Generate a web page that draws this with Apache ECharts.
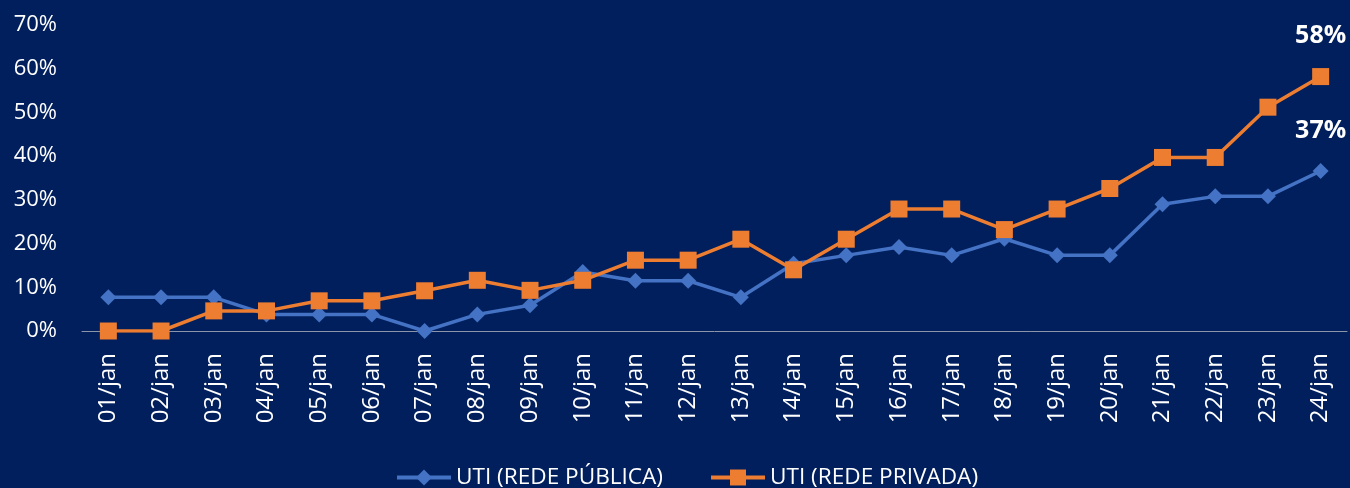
<!DOCTYPE html>
<html>
<head>
<meta charset="utf-8">
<script src="https://cdn.jsdelivr.net/npm/echarts@6/dist/echarts.min.js"></script>
<style>
  html, body { margin: 0; padding: 0; background: #001f5c; }
  #chart { width: 1350px; height: 488px; }
</style>
</head>
<body>
<div id="chart"></div>
<script>
// dias
var dias = ['01/jan', '02/jan', '03/jan', '04/jan', '05/jan', '06/jan', '07/jan', '08/jan',
    '09/jan', '10/jan', '11/jan', '12/jan', '13/jan', '14/jan', '15/jan', '16/jan',
    '17/jan', '18/jan', '19/jan', '20/jan', '21/jan', '22/jan', '23/jan', '24/jan'];
// ocupação UTI rede pública (%)
var redePublica = [7.7, 7.7, 7.7, 3.8, 3.8, 3.8, 0, 3.8, 5.9, 13.5, 11.5, 11.5,
    7.7, 15.4, 17.3, 19.2, 17.3, 21.1, 17.3, 17.3, 29.0, 30.8, 30.8, 36.6];
// ocupação UTI rede privada (%)
var redePrivada = [0, 0, 4.6, 4.6, 6.9, 6.9, 9.2, 11.6, 9.3, 11.6, 16.2, 16.2,
    21.0, 14.0, 21.0, 27.9, 27.9, 23.2, 27.9, 32.6, 39.7, 39.7, 51.2, 58.2];
// marcas do eixo y
var yMin = 0, yMax = 70, yStep = 10;

var fonte = '"Open Sans", sans-serif';

// só o último ponto leva rótulo
function comRotulo(valores) {
    return valores.map(function (v, i) {
        if (i === valores.length - 1) {
            return {
                value: v,
                label: {
                    show: true,
                    position: 'top',
                    distance: 20,
                    color: '#ffffff',
                    fontFamily: fonte,
                    fontWeight: 'bold',
                    fontSize: 25,
                    formatter: function (p) { return Math.round(p.value) + '%'; }
                }
            };
        }
        return v;
    });
}

var myChart = echarts.init(document.getElementById('chart'));
var option = {
    backgroundColor: '#001f5c',
    animation: false,
    grid: { left: 82, right: 3, top: 25, bottom: 157 },
    legend: {
        left: 390,
        top: 461,
        itemWidth: 54,
        itemHeight: 20,
        itemGap: 46,
        lineStyle: { width: 4 },
        textStyle: { color: '#ffffff', fontFamily: fonte, fontSize: 22.6 },
        data: ['UTI (REDE PÚBLICA)', 'UTI (REDE PRIVADA)']
    },
    xAxis: {
        type: 'category',
        data: dias,
        boundaryGap: true,
        axisLine: { lineStyle: { color: '#8c94a8', width: 1 } },
        axisTick: { show: false },
        axisLabel: {
            rotate: 90,
            interval: 0,
            margin: 22,
            color: '#ffffff',
            fontFamily: fonte,
            fontSize: 24
        }
    },
    yAxis: {
        type: 'value',
        min: yMin,
        max: yMax,
        interval: yStep,
        splitLine: { show: false },
        axisLine: { show: false },
        axisTick: { show: false },
        axisLabel: {
            margin: 25,
            color: '#ffffff',
            fontFamily: fonte,
            fontSize: 22,
            formatter: '{value}%'
        }
    },
    series: [
        {
            name: 'UTI (REDE PÚBLICA)',
            type: 'line',
            data: comRotulo(redePublica),
            symbol: 'diamond',
            symbolSize: 16,
            lineStyle: { color: '#4472c4', width: 3.5 },
            itemStyle: { color: '#4472c4' }
        },
        {
            name: 'UTI (REDE PRIVADA)',
            type: 'line',
            data: comRotulo(redePrivada),
            symbol: 'rect',
            symbolSize: 17,
            lineStyle: { color: '#ed7d31', width: 3.5 },
            itemStyle: { color: '#ed7d31' }
        }
    ]
};
myChart.setOption(option);
</script>
</body>
</html>
